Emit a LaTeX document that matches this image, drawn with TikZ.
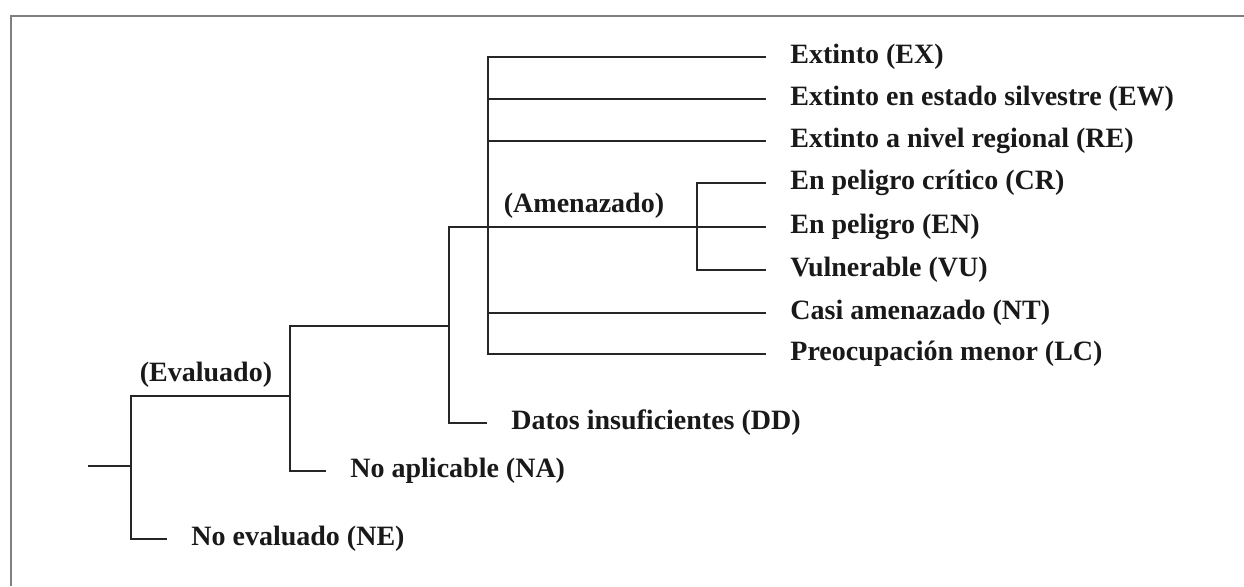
\documentclass[tikz,border=0pt]{standalone}
\usepackage{fontspec}
\setmainfont{Liberation Serif}

\begin{document}
\begin{tikzpicture}[x=0.5pt, y=-0.5pt,
    branch/.style={line width=0.75pt, draw=black!85},
    leaf/.style={anchor=west, inner xsep=12pt, inner ysep=0pt, text=black!90,
        font=\fontsize{14}{16}\selectfont\bfseries},
    tag/.style={anchor=south, inner sep=0pt, text=black!90,
        font=\fontsize{14}{16}\selectfont\bfseries}]

    \useasboundingbox (0,0) rectangle (1244,586);
    \draw[black!50, line width=1pt] (1244,16) -- (11,16) -- (11,586);

    \coordinate (root) at (88,466);
    \coordinate (split1) at (131,466);
    \coordinate (split2) at (290,396);
    \coordinate (split3) at (449,326);
    \coordinate (split4) at (488,227);
    \coordinate (split5) at (697,227);

    \node[leaf] (ne) at (167,539) {No evaluado (NE)};
    \node[leaf] (na) at (326,471) {No aplicable (NA)};
    \node[leaf] (dd) at (487,423) {Datos insuficientes (DD)};

    \node[leaf] (ex) at (766,57) {Extinto (EX)};
    \node[leaf] (ew) at (766,99) {Extinto en estado silvestre (EW)};
    \node[leaf] (re) at (766,141) {Extinto a nivel regional (RE)};
    \node[leaf] (cr) at (766,183) {En peligro crítico (CR)};
    \node[leaf] (en) at (766,227) {En peligro (EN)};
    \node[leaf] (vu) at (766,270) {Vulnerable (VU)};
    \node[leaf] (nt) at (766,313) {Casi amenazado (NT)};
    \node[leaf] (lc) at (766,354) {Preocupación menor (LC)};

    \node[tag] (evaluado) at (206,388) {(Evaluado)};
    \node[tag] (amenazado) at (584,219) {(Amenazado)};

    \draw[branch] (root) -- (split1);
    \draw[branch] (split1) |- (ne.west);
    \draw[branch] (split1) |- (split2);
    \draw[branch] (split2) |- (na.west);
    \draw[branch] (split2) |- (split3);
    \draw[branch] (split3) |- (dd.west);
    \draw[branch] (split3) |- (en.west);
    \foreach \leafname in {ex, ew, re, nt, lc}
        \draw[branch] (split4) |- (\leafname.west);
    \draw[branch] (split5) |- (cr.west);
    \draw[branch] (split5) |- (vu.west);

\end{tikzpicture}
\end{document}
